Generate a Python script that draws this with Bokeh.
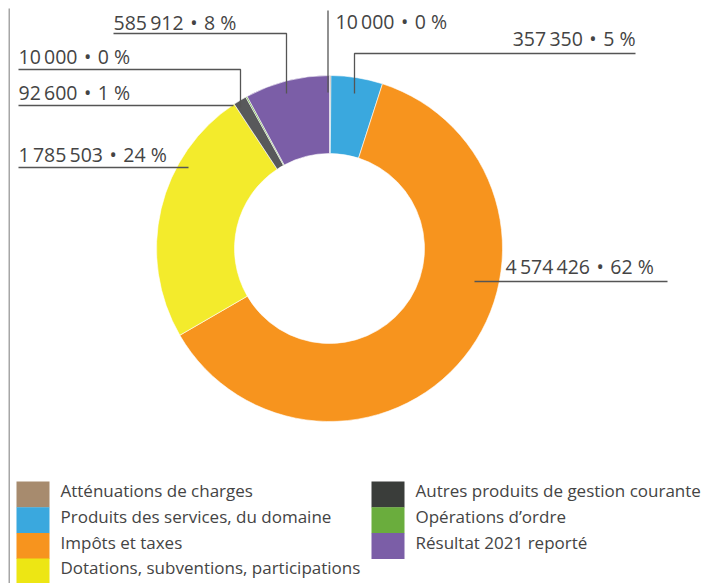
import math
from bokeh.plotting import figure
from bokeh.models import Range1d, ColumnDataSource
from bokeh.core.properties import value
from bokeh.embed import file_html
from bokeh.resources import INLINE

# ---- data ----
categories = [
    "Atténuations de charges",
    "Produits des services, du domaine",
    "Impôts et taxes",
    "Dotations, subventions, participations",
    "Autres produits de gestion courante",
    "Opérations d\u2019ordre",
    "Résultat 2021 reporté",
]
amounts = [10000, 357350, 4574426, 1785503, 92600, 10000, 585912]

slice_colors = ["#A78B6E", "#3AA8DE", "#F7941E", "#F3EB2C", "#58595B", "#6AAD3D", "#7B5EA7"]
legend_colors = ["#A78B6E", "#3AA8DE", "#F7941E", "#EDE614", "#3A3D3A", "#6AAD3D", "#7B5EA7"]

W, H = 706, 575
FONT = "Open Sans"
TXT = "#444444"
LINE = "#555555"
TSHIFT = 6  # baseline correction for text rendering


def X(px):
    return px - 8


def Y(py):
    return H + 8 - py


total = sum(amounts)
starts, ends = [], []
cum = 0.0
for v in amounts:
    starts.append(math.pi / 2 - 2 * math.pi * cum / total)
    cum += v
    ends.append(math.pi / 2 - 2 * math.pi * cum / total)


def fmt(v):
    return (f"{v:,}".replace(",", "\u2009") + "\u2004\u2022\u2004"
            + f"{round(v / total * 100)} %")


labels = [fmt(v) for v in amounts]

p = figure(width=W, height=H, output_backend="svg", toolbar_location=None,
           x_range=Range1d(0, W), y_range=Range1d(0, H),
           min_border=0, outline_line_color=None, background_fill_color="white")
p.axis.visible = False
p.grid.visible = False

# left vertical rule
p.line([X(8.5), X(8.5)], [Y(0), Y(600)], line_color="#888888", line_width=1.5)

# donut
cx, cy = X(329), Y(248)
src = ColumnDataSource(dict(start=starts, end=ends, color=slice_colors))
p.annular_wedge(x=cx, y=cy, inner_radius=95, outer_radius=173,
                start_angle="start", end_angle="end", direction="clock",
                fill_color="color", line_color="white", line_width=0.6, source=src)

# label layout (pixel positions): text x, baseline, align, leader polyline
layout = [
    (335, 27, "left", [(327.5, 10), (327.5, 92)]),
    (635, 44, "right", [(635, 53), (354, 53), (354, 93)]),
    (505, 272, "left", [(474, 281), (667, 281)]),
    (18, 160, "left", [(18, 167), (188, 167)]),
    (18, 98, "left", [(18, 105), (233, 105)]),
    (18, 62, "left", [(18, 69), (240, 69), (240, 107)]),
    (113, 28, "left", [(113, 33), (286, 33), (286, 93)]),
]
for lab, (tx, ty, al, pts) in zip(labels, layout):
    p.line([X(a) for a, b in pts], [Y(b) for a, b in pts], line_color=LINE, line_width=1.3)
    p.text(x=[X(tx)], y=[Y(ty - TSHIFT)], text=[lab], text_font=value(FONT),
           text_font_size="19.5px", text_color=TXT, text_align=al, text_baseline="alphabetic")

# legend
pitch = 25.7
for i, (cat, col) in enumerate(zip(categories, legend_colors)):
    c, r = (0, i) if i < 4 else (1, i - 4)
    sx0 = 16 if c == 0 else 371
    top = 481 + pitch * r
    p.quad(left=X(sx0), right=X(sx0 + 33), top=Y(top), bottom=Y(top + pitch + 0.4),
           fill_color=col, line_color=None)
    p.text(x=[X(sx0 + 44)], y=[Y(top + 15.3 - TSHIFT)], text=[cat], text_font=value(FONT),
           text_font_size="17px", text_color=TXT, text_align="left", text_baseline="alphabetic")

html = file_html(p, INLINE)
html = html.replace("</head>", "<style>html{margin:0;padding:0}body{margin:8px 8px 0 8px;overflow:hidden}</style></head>", 1)
open("out.html", "w").write(html)
